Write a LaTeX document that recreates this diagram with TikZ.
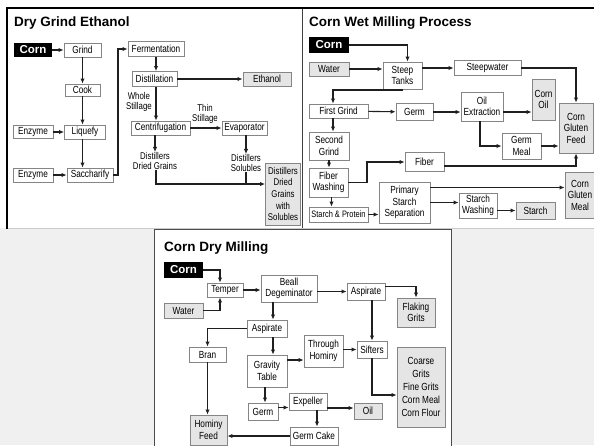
\documentclass[tikz,border=0pt]{standalone}
\usepackage{fontspec}
\setmainfont{Liberation Sans}
\newfontfamily\lblfont{Liberation Sans}[FakeStretch=0.8]
\usetikzlibrary{positioning, arrows.meta}
\definecolor{box-gray}{rgb}{0.52, 0.52, 0.52}
\definecolor{out-gray}{rgb}{0.9, 0.9, 0.9}
\definecolor{page-gray}{rgb}{0.94, 0.94, 0.94}
\definecolor{line-dark}{rgb}{0.12, 0.12, 0.12}

\begin{document}
\begin{tikzpicture}[x=1pt, y=-1pt]
				\tikzset{box/.style={rectangle, draw=box-gray, line width=0.95pt, fill=white, inner sep=1pt, align=center, font=\lblfont\fontsize{10.3}{11.5}\selectfont}}
				\tikzset{prod/.style={box, fill=out-gray}}
				\tikzset{corn/.style={rectangle, fill=black, text=white, inner sep=1pt, font=\fontsize{11.5}{12}\selectfont\bfseries}}
				\tikzset{lbl/.style={align=center, inner sep=0pt, font=\lblfont\fontsize{9.8}{10.5}\selectfont}}
				\tikzset{title/.style={anchor=west, inner sep=0pt, font=\fontsize{13.5}{14}\selectfont\bfseries}}
				\tikzset{sz/.style 2 args={minimum width=#1pt, minimum height=#2pt}}
				\tikzset{arr/.style={-{Latex[length=5pt, width=4.5pt]}, line-dark, line width=1.1pt}}
				
				\useasboundingbox (0,0) rectangle (594,445);
				\clip (0,0) rectangle (594,445);
				% frames
				\fill[white] (0,0) rectangle (594,445);
				\fill[page-gray] (0,228) rectangle (594,445);
				\fill[white] (154,229) rectangle (451,446);
				\draw[black!70] (154,446) -- (154,229) -- (451,229) -- (451,446);
				\draw[black!20, line width=1pt] (7,228) -- (594,228);
				\draw[black!75, line width=0.8pt] (302,9) -- (302,228);
				\draw[black, line width=2.6pt] (7,228.5) -- (7,8) -- (594,8);
				
				% Dry Grind Ethanol
				\node[title] at (14,23) {Dry Grind Ethanol};
				\node[corn, sz={38}{14}] (corn1) at (33,50) {Corn};
				\node[box, sz={37}{14}] (grind) at (82.5,50) {Grind};
				\node[box, sz={35}{12}] (cook) at (82.5,90) {Cook};
				\node[box, sz={40}{13}] (enz1) at (33,132) {Enzyme};
				\node[box, sz={41}{14}] (liquefy) at (85,132) {Liquefy};
				\node[box, sz={40}{14}] (enz2) at (33,175) {Enzyme};
				\node[box, sz={46}{14}] (sacch) at (90,175) {Saccharify};
				\node[box, sz={56}{15}] (ferm) at (156,49) {Fermentation};
				\node[box, sz={45}{15}] (dist) at (154.5,79) {Distillation};
				\node[prod, sz={48}{14}] (ethanol) at (267,79) {Ethanol};
				\node[box, sz={59}{14}] (centri) at (160.5,128) {Centrifugation};
				\node[box, sz={45}{14}] (evap) at (244.5,128) {Evaporator};
				\node[lbl, anchor=east] (whole) at (152,102) {Whole\\Stillage};
				\node[lbl] (thin) at (205,114) {Thin\\Stillage};
				\node[lbl] (ddg) at (155,161) {Distillers\\Dried Grains};
				\node[lbl] (solub) at (246,163) {Distillers\\Solubles};
				\node[prod, sz={35}{62}, font=\lblfont\fontsize{9.8}{11.7}\selectfont] (ddgs) at (283,194) {Distillers\\Dried\\Grains\\with\\Solubles};
				\coordinate (up1) at (118,175);
				\coordinate (join1) at (156,184);
				\draw[arr] (corn1) -- (grind);
				\draw[arr] (grind) -- (cook);
				\draw[arr] (cook.south) -- (cook.south |- liquefy.north);
				\draw[arr] (enz1) -- (liquefy);
				\draw[arr] (liquefy.south -| cook) -- (cook |- sacch.north);
				\draw[arr] (enz2) -- (sacch);
				\draw[arr] (sacch.east) -- (up1) |- (ferm.west);
				\draw[arr] (ferm.south) -- (ferm.south |- dist.north);
				\draw[arr] (dist) -- (ethanol);
				\draw[arr] (dist.south -| ferm) -- (ferm |- centri.north);
				\draw[arr] (centri) -- (evap);
				\draw[arr] (centri.south -| ddg) -- (ddg.north);
				\draw[arr] (evap.south -| solub) -- (solub.north);
				\draw[arr] (ddg.south -| join1) -- (join1) -- (join1 -| ddgs.west);
				\draw[line-dark, line width=1.1pt] (solub.south) -- (solub.south |- join1);
				
				% Corn Wet Milling Process
				\node[title] at (309,23) {Corn Wet Milling Process};
				\node[corn, sz={40}{16}] (corn2) at (329,45) {Corn};
				\node[prod, sz={40}{14}] (water2) at (329,69) {Water};
				\node[box, sz={39}{27}] (steep) at (402.5,75.5) {Steep\\Tanks};
				\node[box, sz={67}{15}] (steepw) at (487.5,68) {Steepwater};
				\node[box, sz={59}{14}] (grind1) at (338.5,111) {First Grind};
				\node[box, sz={37}{17}] (germ2) at (414.5,112) {Germ};
				\node[box, sz={42}{29}] (oilx) at (482,106.5) {Oil\\Extraction};
				\node[prod, sz={23}{41}] (cornoil) at (543.5,99.5) {Corn\\Oil};
				\node[prod, sz={34}{50}] (cgf) at (576,128) {Corn\\Gluten\\Feed};
				\node[box, sz={39}{26}] (germmeal) at (521.5,146) {Germ\\Meal};
				\node[box, sz={40}{28}] (grind2) at (329,146) {Second\\Grind};
				\node[box, sz={39}{29}] (fiberw) at (328.5,182.5) {Fiber\\Washing};
				\node[box, sz={39}{19}] (fiber) at (424.5,162) {Fiber};
				\node[box, sz={59}{15}, font=\lblfont\fontsize{9.3}{10}\selectfont] (sp) at (338.5,214.5) {Starch \& Protein};
				\node[box, sz={51}{41}] (pss) at (404.5,202.5) {Primary\\Starch\\Separation};
				\node[prod, sz={30}{46}] (cgm) at (580,195) {Corn\\Gluten\\Meal};
				\node[box, sz={38}{25}] (sw) at (478,205.5) {Starch\\Washing};
				\node[prod, sz={39}{17}] (starch) at (535.5,210.5) {Starch};
				\coordinate (sbend) at (333,90);
				\coordinate (fbend) at (367,162);
				\draw[arr] (corn2.east) -| ([xshift=5pt]steep.north);
				\draw[arr] (water2) -- (water2 -| steep.west);
				\draw[arr] (steep.east |- steepw) -- (steepw.west);
				\draw[arr] (steepw.east) -| (cgf.north);
				\draw[arr] (steep.south) |- (sbend) -- (sbend |- grind1.north);
				\draw[arr] (grind1) -- (germ2);
				\draw[arr] (germ2.east) -- (germ2.east -| oilx.west);
				\draw[arr] (oilx.east |- germ2) -- (germ2 -| cornoil.west);
				\draw[arr] ([xshift=-2pt]oilx.south) |- (germmeal.west);
				\draw[arr] (germmeal) -- (germmeal -| cgf.west);
				\draw[arr] (sbend |- grind1.south) -- (sbend |- grind2.north);
				\draw[arr] (grind2.south) -- (grind2.south |- fiberw.north);
				\draw[arr] (fiberw.east) -| (fbend) -- (fiber.west);
				\draw[arr] ([yshift=-4pt]fiber.east) -| (cgf.south);
				\draw[arr] ([xshift=3pt]fiberw.south) -- ([xshift=3pt]fiberw.south |- sp.north);
				\draw[arr] (sp) -- (sp -| pss.west);
				\draw[arr] ([yshift=15pt]pss.east) -- ([yshift=15pt]pss.east -| cgm.west);
				\draw[arr] (pss) -- (pss -| sw.west);
				\draw[arr] (sw.east |- starch) -- (starch.west);
				
				% Corn Dry Milling
				\node[title] at (164,248) {Corn Dry Milling};
				\node[corn, sz={39}{16}] (corn3) at (183.5,270) {Corn};
				\node[box, sz={36}{14}] (temper) at (225,290) {Temper};
				\node[prod, sz={39}{15}] (water3) at (183.5,310.5) {Water};
				\node[box, sz={56}{27}] (beall) at (289,288.5) {Beall\\Degeminator};
				\node[box, sz={38}{17}] (asp1) at (366,291.5) {Aspirate};
				\node[prod, sz={38}{29}] (flaking) at (416,312.5) {Flaking\\Grits};
				\node[box, sz={40}{17}] (asp2) at (267,328.5) {Aspirate};
				\node[box, sz={37}{15}] (bran) at (207.5,354.5) {Bran};
				\node[box, sz={40}{32}] (gravity) at (267,371) {Gravity\\Table};
				\node[box, sz={39}{32}] (through) at (323.5,351) {Through\\Hominy};
				\node[box, sz={30}{17}] (sifters) at (372,349.5) {Sifters};
				\node[prod, sz={48}{80}, font=\lblfont\fontsize{10.3}{13.2}\selectfont] (coarse) at (421,387) {Coarse\\Grits\\Fine Grits\\Corn Meal\\Corn Flour};
				\node[box, sz={30}{17}] (germ3) at (263,411.5) {Germ};
				\node[box, sz={38}{17}] (expeller) at (308,401.5) {Expeller};
				\node[prod, sz={28}{16}] (oil3) at (368,411) {Oil};
				\node[box, sz={48}{18}] (germcake) at (314,436) {Germ Cake};
				\node[prod, sz={37}{30}] (hominy) at (208.5,430) {Hominy\\Feed};
				\draw[arr] (corn3.east) -| ([xshift=-5pt]temper.north);
				\draw[arr] (water3.east) -| ([xshift=-5pt]temper.south);
				\draw[arr] (temper.east) -- (temper.east -| beall.west);
				\draw[arr] (beall.east |- asp1) -- (asp1.west);
				\draw[arr] ([yshift=5pt]asp1.east) -| (flaking.north);
				\draw[arr] ([xshift=6pt]asp2.north |- beall.south) -- ([xshift=6pt]asp2.north);
				\draw[arr] (asp2.west) -| (bran.north);
				\draw[arr] ([xshift=6pt]asp2.south) -- ([xshift=6pt]asp2.south |- gravity.north);
				\draw[arr] ([yshift=11pt]gravity.east) -- ([yshift=11pt]gravity.east -| through.west);
				\draw[arr] (through.east |- sifters) -- (sifters.west);
				\draw[arr] (sifters.north |- asp1.south) -- (sifters.north);
				\draw[arr] (sifters.south) |- ([yshift=-8pt]coarse.west);
				\draw[arr] ([xshift=-2pt]gravity.south) -- ([xshift=-2pt]gravity.south |- germ3.north);
				\draw[arr] ([yshift=4pt]germ3.east) -- ([yshift=4pt]germ3.east -| expeller.west);
				\draw[arr] ([yshift=3pt]oil3.west -| expeller.east) -- ([yshift=3pt]oil3.west);
				\draw[arr] ([xshift=9pt]expeller.south) -- ([xshift=9pt]expeller.south |- germcake.north);
				\draw[arr] (germcake.west) -- (germcake.west -| hominy.east);
				\draw[arr] (bran.south) -- (bran.south |- hominy.north);
			\end{tikzpicture}
\end{document}
